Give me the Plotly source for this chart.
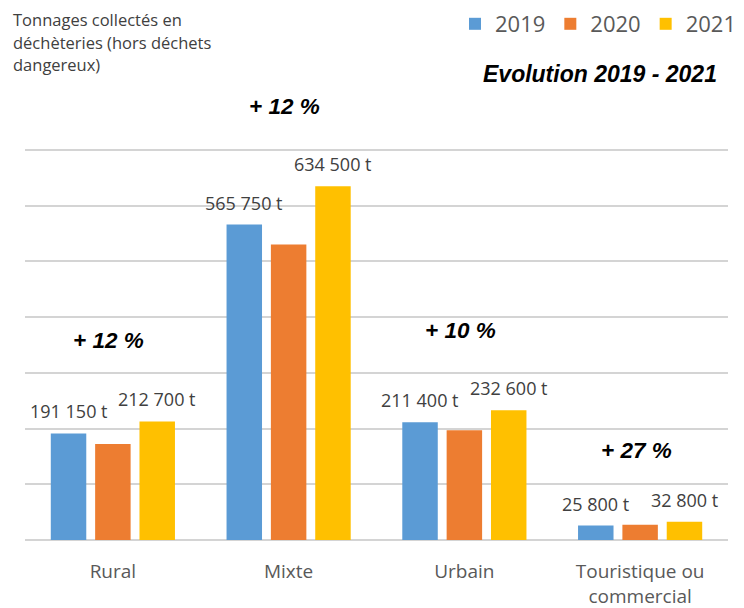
import plotly.graph_objects as go

# ---- data ----
categories = ["Rural", "Mixte", "Urbain", "Touristique ou<br>commercial"]
years = ["2019", "2020", "2021"]
values_2019 = [191150, 565750, 211400, 25800]
values_2020 = [172000, 530000, 197000, 27500]
values_2021 = [212700, 634500, 232600, 32800]
labels_2019 = ["191 150 t", "565 750 t", "211 400 t", "25 800 t"]
labels_2021 = ["212 700 t", "634 500 t", "232 600 t", "32 800 t"]
growth_labels = ["+ 12 %", "+ 12 %", "+ 10 %", "+ 27 %"]
title_lines = ["Tonnages collectés en", "déchèteries (hors déchets", "dangereux)"]
subtitle = "Evolution 2019 - 2021"

# ---- style / layout ----
colors = ["#5B9BD5", "#ED7D31", "#FFC000"]
TEXT = "#595959"
FONT = "Open Sans"
PAGE = 8                       # browser body margin
W, H = 744 - PAGE, 608 - PAGE  # figure size
M = dict(l=17, r=16, t=139, b=68)
BARGAP, BARGROUPGAP = 0.243, 0.20
plot_w = W - M["l"] - M["r"]
plot_h = H - M["t"] - M["b"]
slot = plot_w / len(categories)
offset = slot * (1 - BARGAP) / 3
BASE_PX = PAGE + H - M["b"]    # window pixel of the baseline


def px_x(px):
    return (px - PAGE - M["l"]) / plot_w


def px_y(py):
    return (BASE_PX - py) / plot_h


fig = go.Figure()
for yr, vals, c in zip(years, [values_2019, values_2020, values_2021], colors):
    fig.add_trace(go.Bar(name=yr, x=categories, y=vals, marker=dict(color=c, line=dict(width=0))))

ann = []
for cat, v, lab in zip(categories, values_2019, labels_2019):
    ann.append(dict(x=cat, y=v, text=lab, showarrow=False, xshift=-offset, yshift=22,
                    yanchor="middle", font=dict(family=FONT, size=18, color="#404040")))
for cat, v, lab in zip(categories, values_2021, labels_2021):
    ann.append(dict(x=cat, y=v, text=lab, showarrow=False, xshift=offset, yshift=22,
                    yanchor="middle", font=dict(family=FONT, size=18, color="#404040")))

growth_px = [340, 106, 330, 450]  # vertical window-pixel positions of growth labels
for cat, g, py in zip(categories, growth_labels, growth_px):
    ann.append(dict(x=cat, xref="x", y=px_y(py), yref="paper", text="<b><i>" + g + "</i></b>",
                    showarrow=False, xshift=-4, yanchor="middle",
                    font=dict(family="Liberation Sans", size=22.5, color="#000000")))

ann.append(dict(x=px_x(600), xref="paper", y=px_y(74), yref="paper",
                text="<b><i>" + subtitle + "</i></b>", showarrow=False, xanchor="center", yanchor="middle",
                font=dict(family="Liberation Sans", size=23, color="#000000")))

for i, line in enumerate(title_lines):
    ann.append(dict(x=px_x(11), xref="paper", y=px_y(19.5 + 22.5 * i), yref="paper",
                    text=line, showarrow=False, xanchor="left", yanchor="middle",
                    font=dict(family=FONT, size=16.5, color="#404040")))

fig.update_layout(
    width=W, height=H, margin=dict(M, autoexpand=False),
    paper_bgcolor="white", plot_bgcolor="white",
    barmode="group", bargap=BARGAP, bargroupgap=BARGROUPGAP,
    font=dict(family=FONT, color=TEXT),
    legend=dict(orientation="h", x=(741 - PAGE) / W, xref="container", xanchor="right",
                y=1 - (24 - PAGE) / H, yref="container", yanchor="middle",
                font=dict(family=FONT, size=22, color=TEXT), itemwidth=30, bgcolor="rgba(0,0,0,0)"),
    annotations=ann,
    xaxis=dict(showline=False, ticks="", automargin=False,
               tickfont=dict(family=FONT, size=19, color=TEXT), ticklabelstandoff=18),
    yaxis=dict(range=[0, 705000], dtick=100000, showticklabels=False, showgrid=True, automargin=False,
               gridcolor="#d4d4d4", gridwidth=1.5, zeroline=True, zerolinecolor="#d4d4d4", zerolinewidth=1.5),
)

fig.write_html("out.html")
